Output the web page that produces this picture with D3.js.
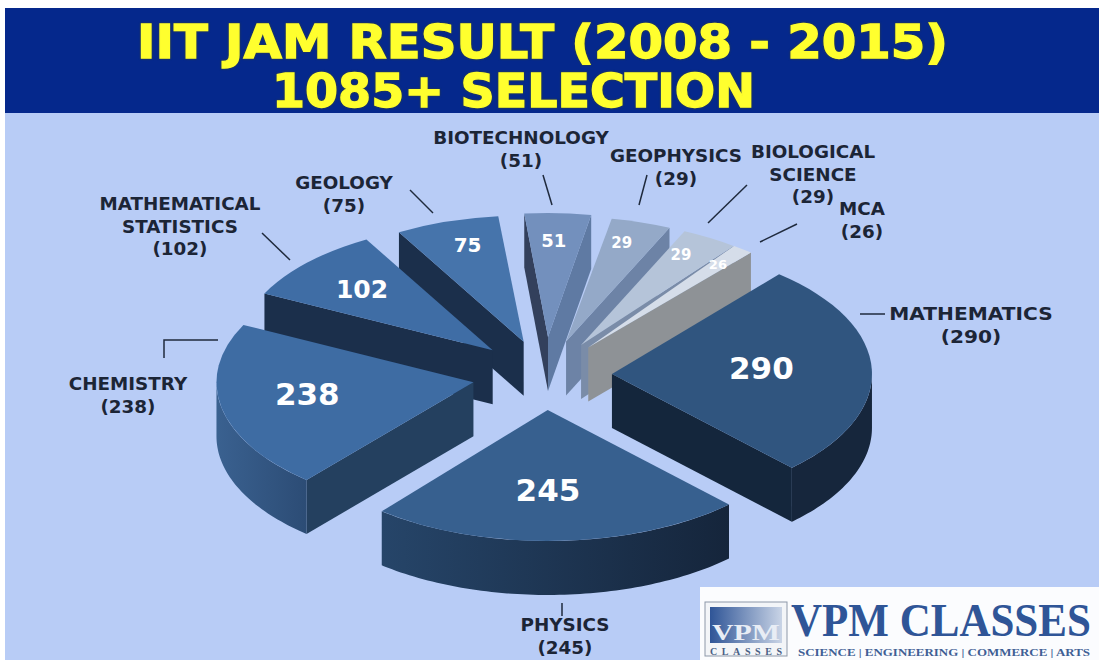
<!DOCTYPE html>
<html>
<head>
<meta charset="utf-8">
<script src="https://cdn.jsdelivr.net/npm/d3@7"></script>
<style>
  html, body { margin: 0; padding: 0; background: #fff; }
  svg { display: block; }
  .name { font-family: "DejaVu Sans", sans-serif; font-weight: bold; font-size: 17px; fill: #1c2536; text-anchor: middle; }
  .val { font-family: "DejaVu Sans", sans-serif; font-weight: bold; fill: #fff; text-anchor: middle; }
  .leader { fill: none; stroke: #1f2a3d; stroke-width: 1.5; }
</style>
</head>
<body>
<svg id="chart" width="1099" height="663"></svg>
<script>
// Values
const categories = ['MATHEMATICS', 'PHYSICS', 'CHEMISTRY', 'MATHEMATICAL STATISTICS', 'GEOLOGY',
    'BIOTECHNOLOGY', 'GEOPHYSICS', 'BIOLOGICAL SCIENCE', 'MCA'];
const values = [290, 245, 238, 102, 75, 51, 29, 29, 26];
const titleLines = ['IIT JAM RESULT (2008 - 2015)', '1085+ SELECTION'];

// Slice styling, same order as categories
const radii = [260, 262, 257, 255, 252, 248, 250, 250, 250];
const explode = [67, 70, 73, 72, 70, 76, 70, 70, 70];
// the thin slices are drawn wider than their share in the picture: [start, end] in degrees
const angleNudge = [[0, 0], [0, 1.8], [3, 0], [0, 0], [0, -1], [-0.7, -2.1], [-1.6, 2.7], [2.7, 6.2], [4.3, 0.6]];
const topColors = ['#30557f', '#37608f', '#3e6ca3', '#3f6da5', '#4674ab', '#7390bd', '#94a9c8', '#b5c4d9', '#d5dde9'];
const startWall = ['#14263c', '#1a2f4d', '#24405f', '#1b2f4b', '#1b2f4b', '#33405c', '#6d83a6', '#7a8ca8', '#8e9296'];
const endWall = ['#14263c', '#1a2f4d', '#24405f', '#1b2f4b', '#1b2f4b', '#5f7aa3', '#6d83a6', '#7a8ca8', '#8e9296'];
// curved wall colours, [left, right]
const outerEdge = [['#16263c', '#16263c'], ['#264569', '#15253b'], ['#3a6190', '#2c4c75'], ['#1b2f4b', '#1b2f4b'], ['#1b2f4b', '#1b2f4b'],
    ['#5f7aa3', '#5f7aa3'], ['#6d83a6', '#6d83a6'], ['#7a8ca8', '#7a8ca8'], ['#8e9296', '#8e9296']];
const labelFrac = [0.575, 0.61, 0.66, 0.705, 0.77, 0.78, 0.82, 0.83, 0.84];
const labelNudge = [[0, -4], [-6, 0], [0, -5], [0, 0], [3, -4], [-2, 0], [-6, -1], [-7, -1], [0, -1]];
const labelSize = [31, 31, 31, 25, 20, 18, 15, 15, 13];

// Label anchors: [center x, first baseline]
const nameAnchors = [[971, 320], [565, 631], [128, 390], [180, 210], [344, 189], [521, 144], [676, 162], [813, 158], [862, 215]];
const nameStretch = [1.186, 1.078, 1.078, 1.078, 1.078, 1.078, 1.078, 1.078, 1.078];
const leaders = [
    [[860, 314], [885, 314]],
    [[562, 603], [562, 616]],
    [[164, 358], [164, 340], [218, 340]],
    [[262, 233], [290, 260]],
    [[410, 190], [433, 213]],
    [[543, 175], [552, 205]],
    [[647, 175], [639, 205]],
    [[747, 185], [708, 223]],
    [[797, 224], [760, 242]]
];

const cx = 545, cy = 375, squash = 0.5, depth = 54;
const toRad = Math.PI / 180;

const svg = d3.select('#chart');

// Page panels
svg.append('rect').attr('x', 5).attr('y', 8).attr('width', 1094).attr('height', 652).attr('fill', '#b8ccf6');
svg.append('rect').attr('x', 5).attr('y', 8).attr('width', 1094).attr('height', 105).attr('fill', '#05288c');

// Title
const titleBoxes = [{x: 137, y: 58, w: 811}, {x: 272, y: 107, w: 483}];
svg.selectAll('.title')
    .data(titleLines)
    .enter()
    .append('text')
    .attr('class', 'title')
    .attr('x', (d, i) => titleBoxes[i].x)
    .attr('y', (d, i) => titleBoxes[i].y)
    .attr('textLength', (d, i) => titleBoxes[i].w)
    .attr('lengthAdjust', 'spacingAndGlyphs')
    .style('font-family', '"DejaVu Sans", sans-serif')
    .style('font-weight', 'bold')
    .style('font-size', '46px')
    .style('fill', '#ffff2e')
    .style('stroke', '#ffff2e')
    .style('stroke-width', 1.3)
    .style('filter', 'drop-shadow(0 0 1px #3a4430)')
    .text(d => d);

// Pie layout, clockwise from about 40 degrees
const pie = d3.pie().sort(null).startAngle(40 * toRad).endAngle(400 * toRad);
const slices = pie(values).map((d, i) => {
    const startAngle = d.startAngle + angleNudge[i][0] * toRad;
    const endAngle = d.endAngle + angleNudge[i][1] * toRad;
    const mid = (startAngle + endAngle) / 2;
    return {
        ...d, i, startAngle, endAngle, mid,
        r: radii[i],
        ox: cx + Math.sin(mid) * explode[i],
        oy: cy - Math.cos(mid) * explode[i] * squash
    };
});

// Point on a slice's rim, on screen
const rim = (s, a) => [s.ox + Math.sin(a) * s.r, s.oy - Math.cos(a) * s.r * squash];
const line = d3.line();
const defs = svg.append('defs');

// Back slices first
const order = slices.slice().sort((a, b) => a.oy - b.oy);
const pieG = svg.append('g');

order.forEach(s => {
    const g = pieG.append('g');
    const wall = (a, color) => {
        const p = rim(s, a);
        g.append('path')
            .attr('d', line([[s.ox, s.oy], p, [p[0], p[1] + depth], [s.ox, s.oy + depth]]) + 'Z')
            .attr('fill', color);
    };
    // straight walls show only if they face the viewer
    if (Math.sin(s.startAngle) < 0) wall(s.startAngle, startWall[s.i]);
    if (Math.sin(s.endAngle) > 0) wall(s.endAngle, endWall[s.i]);

    // curved wall for the front half of the rim
    const a0 = Math.max(s.startAngle, 90 * toRad), a1 = Math.min(s.endAngle, 270 * toRad);
    if (a1 > a0) {
        const angles = d3.range(a0, a1, 0.02).concat([a1]);
        const upper = angles.map(a => rim(s, a));
        const lower = upper.map(p => [p[0], p[1] + depth]).reverse();
        const gradId = 'rim' + s.i;
        const grad = defs.append('linearGradient').attr('id', gradId)
            .attr('gradientUnits', 'userSpaceOnUse')
            .attr('x1', upper[0][0]).attr('x2', upper[upper.length - 1][0])
            .attr('y1', 0).attr('y2', 0);
        grad.append('stop').attr('offset', 0).attr('stop-color', outerEdge[s.i][1]);
        grad.append('stop').attr('offset', 1).attr('stop-color', outerEdge[s.i][0]);
        g.append('path').attr('d', line(upper.concat(lower)) + 'Z').attr('fill', `url(#${gradId})`);
    }

    // top face
    const arc = d3.arc().innerRadius(0).outerRadius(s.r);
    g.append('path')
        .attr('transform', `translate(${s.ox},${s.oy}) scale(1,${squash})`)
        .attr('d', arc(s))
        .attr('fill', topColors[s.i]);
});

// Numbers on the top faces
svg.selectAll('.val')
    .data(slices)
    .enter()
    .append('text')
    .attr('class', 'val')
    .attr('x', d => d.ox + Math.sin(d.mid) * d.r * labelFrac[d.i] + labelNudge[d.i][0])
    .attr('y', d => d.oy - Math.cos(d.mid) * d.r * labelFrac[d.i] * squash + labelNudge[d.i][1])
    .attr('dy', '0.36em')
    .style('font-size', d => labelSize[d.i] + 'px')
    .text(d => d.value);

// Leader lines
svg.selectAll('.leader')
    .data(leaders)
    .enter()
    .append('path')
    .attr('class', 'leader')
    .attr('d', d => line(d));

// Category labels
categories.forEach((name, i) => {
    const rows = name.split(' ').concat(`(${values[i]})`);
    rows.forEach((row, j) => {
        const t = svg.append('text')
            .attr('class', 'name')
            .attr('x', nameAnchors[i][0])
            .attr('y', nameAnchors[i][1] + j * 22.5)
            .text(row);
        // Verdana-like wide letters
        t.attr('textLength', t.node().getComputedTextLength() * nameStretch[i])
            .attr('lengthAdjust', 'spacingAndGlyphs');
    });
});

// Logo block
const logo = svg.append('g');
logo.append('rect').attr('x', 700).attr('y', 587).attr('width', 399).attr('height', 73).attr('fill', '#fbfcfe');
logo.append('rect').attr('x', 705).attr('y', 602).attr('width', 82).attr('height', 54).attr('fill', '#f3f5f8').attr('stroke', '#8d97a8').attr('stroke-width', 1);
const logoGrad = defs.append('linearGradient').attr('id', 'logoGrad');
logoGrad.append('stop').attr('offset', 0).attr('stop-color', '#2f5597');
logoGrad.append('stop').attr('offset', 1).attr('stop-color', '#c9d4e6');
logo.append('rect').attr('x', 710).attr('y', 607).attr('width', 72).attr('height', 36).attr('fill', 'url(#logoGrad)');
logo.append('text').attr('x', 746).attr('y', 640)
    .attr('text-anchor', 'middle').attr('textLength', 68).attr('lengthAdjust', 'spacingAndGlyphs')
    .style('font-family', '"Liberation Serif", serif').style('font-weight', 'bold').style('font-size', '24px')
    .style('fill', '#e8edf5').text('VPM');
logo.append('text').attr('x', 746).attr('y', 655)
    .attr('text-anchor', 'middle').attr('textLength', 72)
    .style('font-family', '"Liberation Serif", serif').style('font-weight', 'bold').style('font-size', '10px')
    .style('fill', '#4a5f85').text('CLASSES');
// squeezed to fit the white box
const brand = logo.append('text')
    .style('font-family', '"Liberation Serif", serif').style('font-weight', 'bold').style('font-size', '46px')
    .style('fill', '#2f5597').text('VPM CLASSES');
brand.attr('transform', `translate(791,636) scale(${300 / brand.node().getComputedTextLength()},1)`);
logo.append('text').attr('x', 798).attr('y', 656)
    .attr('textLength', 292).attr('lengthAdjust', 'spacingAndGlyphs')
    .style('font-family', '"Liberation Serif", serif').style('font-weight', 'bold').style('font-size', '11px')
    .style('fill', '#3f5f95').text('SCIENCE | ENGINEERING | COMMERCE | ARTS');
</script>
</body>
</html>
